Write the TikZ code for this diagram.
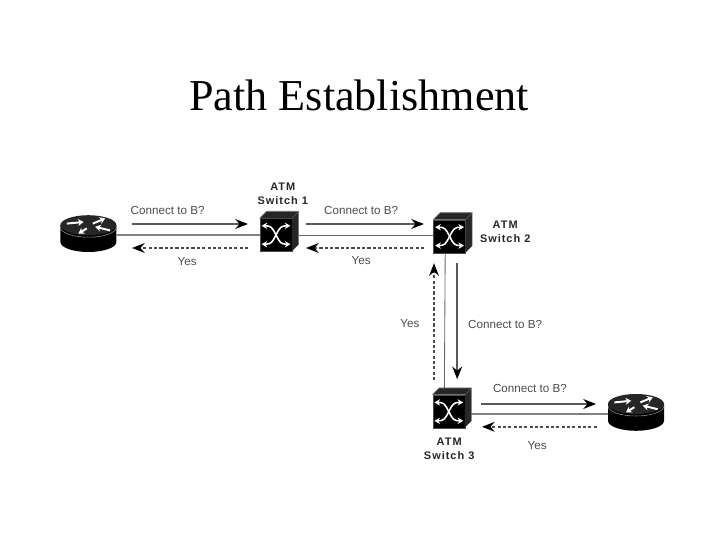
\documentclass[tikz,border=0pt]{standalone}
\usepackage{fontspec}
\setmainfont{Liberation Serif}
\setsansfont{Liberation Sans}
\newfontfamily\tagfont[LetterSpace=9]{Liberation Sans}
\usetikzlibrary{arrows.meta}

\tikzset{
    asklabel/.style={font=\sffamily\fontsize{8.3}{10}\selectfont,text=black!70,inner sep=0pt},
    swlabel/.style={font=\tagfont\bfseries\fontsize{7.8}{10.2}\selectfont,text=black!85,align=center,inner sep=0pt},
    askarrow/.style={draw=black!65,line width=1.2pt,-{Stealth[length=9pt,width=7pt,black]}},
    yesarrow/.style={draw=black!70,line width=1.1pt,dash pattern=on 2.2pt off 1.6pt,-{Stealth[length=9pt,width=7pt,black]}},
    wirelink/.style={draw=black!50,line width=1.5pt},
    thinlink/.style={draw=black!60,line width=.6pt},
    switchbox/.style={draw=black!70,fill=black,line width=.4pt,minimum width=.8cm,minimum height=.83cm,inner sep=0pt},
    routerbox/.style={minimum width=1.4cm,minimum height=.92cm,inner sep=0pt},
}

% cube round a switch node, with the crossing inside
\newcommand{\switchcube}[1]{
    \fill[black!85] (#1.north west) -- ++(.17,.17) -- ++(.8,0) -- ++(0,-.83) -- ++(-.17,-.17) -- (#1.north east) -- cycle;
    \draw[black!55,line width=.5pt] (#1.north west) -- ++(.17,.17) -- ++(.8,0) -- ++(0,-.83);
    \draw[black!55,line width=.3pt] (#1.north east) -- ++(.17,.17);
    \begin{scope}[shift={(#1.center)}]
        \foreach \sx in {1,-1} {
            \draw[white,line width=1.1pt,-{Stealth[length=4pt,width=4.5pt]}] (0,0) .. controls (\sx*.1,.2) and (\sx*.13,.23) .. (\sx*.36,.23);
            \draw[white,line width=1.1pt,-{Stealth[length=4pt,width=4.5pt]}] (0,0) .. controls (\sx*.1,-.2) and (\sx*.13,-.23) .. (\sx*.36,-.23);
        }
    \end{scope}
}

% drum of a router, four white arrows on its lid
\newcommand{\routerdrum}[1]{
    \begin{scope}[shift={(#1.center)}]
        \fill[black] (-.7,.25) -- (-.7,-.17) arc[start angle=180,end angle=360,x radius=.7,y radius=.25] -- (.7,.25) -- cycle;
        \fill[black!85] (0,.25) ellipse[x radius=.7,y radius=.25];
        \draw[black!45,line width=.4pt] (-.7,.2) arc[start angle=180,end angle=360,x radius=.7,y radius=.25];
        \foreach \px/\py/\qx/\qy in {.11/.29/.42/.42,-.54/.29/-.12/.33,-.04/.17/-.25/.04,.54/.12/.17/.21} {
            \draw[white,line width=1.4pt,-{Stealth[length=4pt,width=5pt]}] (\px,\py) -- (\qx,\qy);
        }
    \end{scope}
}

\begin{document}
\begin{tikzpicture}
    \useasboundingbox (0,0) rectangle (18,13.5);
    \node[font=\fontsize{31.4}{36}\selectfont] (title) at (8.98,11.12) {Path Establishment};

    \node[routerbox] (routerA) at (2.21,7.62) {};
    \node[switchbox] (sw1) at (6.9,7.625) {};
    \node[switchbox] (sw2) at (11.24,7.59) {};
    \node[switchbox] (sw3) at (11.22,3.21) {};
    \node[routerbox] (routerB) at (15.9,3.15) {};

    \draw[wirelink] (routerA.east) -- (routerA.east -| sw1.west);
    \draw[thinlink] (sw1.east) -- (sw1.east -| sw2.west);
    \draw[thinlink] ([xshift=-.11cm]sw2.south) -- ([xshift=-.11cm,yshift=.17cm]sw3.north);
    \draw[wirelink] (routerB.west -| sw3.east) -- (routerB.west);

    \switchcube{sw1}
    \switchcube{sw2}
    \switchcube{sw3}
    \routerdrum{routerA}
    \routerdrum{routerB}

    \node[swlabel] (name1) at (7.07,8.65) {ATM\\Switch 1};
    \node[swlabel] (name2) at (12.63,7.7) {ATM\\Switch 2};
    \node[swlabel] (name3) at (11.23,2.28) {ATM\\Switch 3};

    \coordinate (a1) at (3.3,7.9);
    \coordinate (a2) at (6.2,7.9);
    \coordinate (b1) at (6.2,7.3);
    \coordinate (b2) at (3.3,7.3);
    \draw[askarrow] (a1) -- (a2);
    \draw[yesarrow] (b1) -- (b2);
    \node[asklabel] (ask1) at (4.19,8.23) {Connect to B?};
    \node[asklabel] (yes1) at (4.68,6.95) {Yes};

    \coordinate (c1) at (7.65,7.9);
    \coordinate (c2) at (10.6,7.9);
    \coordinate (d1) at (10.6,7.3);
    \coordinate (d2) at (7.65,7.3);
    \draw[askarrow] (c1) -- (c2);
    \draw[yesarrow] (d1) -- (d2);
    \node[asklabel] (ask2) at (9.03,8.23) {Connect to B?};
    \node[asklabel] (yes2) at (9.03,6.98) {Yes};

    \coordinate (e1) at (10.85,4.0);
    \coordinate (e2) at (10.85,6.92);
    \coordinate (f1) at (11.43,6.92);
    \coordinate (f2) at (11.43,4.02);
    \draw[yesarrow] (e1) -- (e2);
    \draw[askarrow] (f1) -- (f2);
    \node[asklabel] (yes3) at (10.25,5.42) {Yes};
    \node[asklabel] (ask3) at (12.63,5.4) {Connect to B?};

    \coordinate (g1) at (12.03,3.4);
    \coordinate (g2) at (14.9,3.4);
    \coordinate (h1) at (14.92,2.83);
    \coordinate (h2) at (12.05,2.83);
    \draw[askarrow] (g1) -- (g2);
    \draw[yesarrow] (h1) -- (h2);
    \node[asklabel] (ask4) at (13.25,3.8) {Connect to B?};
    \node[asklabel] (yes4) at (13.43,2.35) {Yes};
\end{tikzpicture}
\end{document}
